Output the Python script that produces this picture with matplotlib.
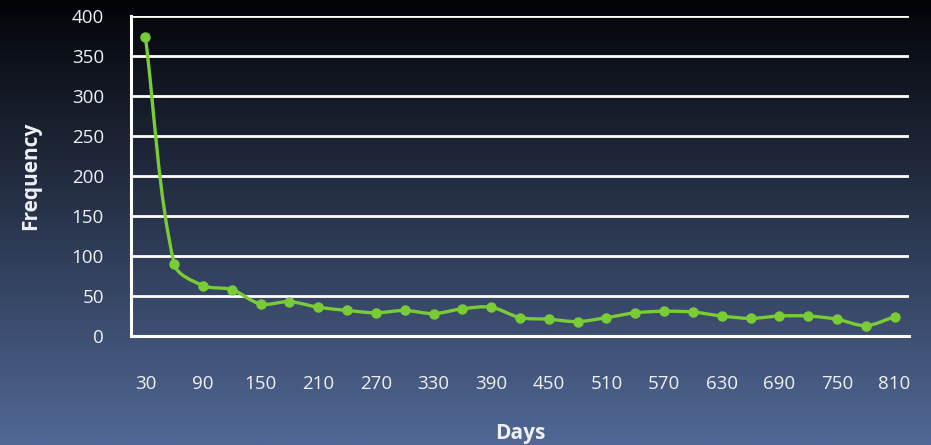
import matplotlib
matplotlib.use('Agg')
import matplotlib.pyplot as plt
import numpy as np
from matplotlib.path import Path
from matplotlib.patches import PathPatch

# Days since event, in 30-day bins
days = [30, 60, 90, 120, 150, 180, 210, 240, 270, 300, 330, 360, 390, 420,
        450, 480, 510, 540, 570, 600, 630, 660, 690, 720, 750, 780, 810]
frequency = [374, 90, 63, 58, 40, 43, 36, 32, 29, 32, 28, 34, 36, 23,
             21, 18, 23, 29, 31, 30, 25, 22, 25, 25, 21, 13, 24]
y_ticks = [0, 50, 100, 150, 200, 250, 300, 350, 400]

green = '#7acc35'
text_col = '#eef0f4'
plt.rcParams['font.family'] = ['Open Sans', 'DejaVu Sans']

fig = plt.figure(figsize=(9.31, 4.45), dpi=100)

# vertical gradient behind everything
bg = fig.add_axes([0, 0, 1, 1], zorder=0)
top_rgb = np.array([3, 4, 7]) / 255
bot_rgb = np.array([81, 104, 150]) / 255
t = np.linspace(0, 1, 256)[:, None, None]
grad = top_rgb * (1 - t) + bot_rgb * t
grad = np.repeat(grad, 2, axis=1)
bg.imshow(grad, aspect='auto', extent=[0, 1, 0, 1])
bg.axis('off')

ax = fig.add_axes([0.1407, 0.2449, 0.9764 - 0.1407, 0.964 - 0.2449], zorder=1)
ax.patch.set_alpha(0)

x = np.arange(len(days))
y = np.array(frequency, dtype=float)

ax.set_xlim(-0.5, len(days) - 0.5)
ax.set_ylim(0, 400)

# smoothed line: bezier segments with tangents worked out in pixel space,
# handle length tied to each segment's own length so nothing overshoots
pts = ax.transData.transform(np.column_stack([x, y]))
n = len(pts)
tang = []
for i in range(n):
    d = pts[min(i + 1, n - 1)] - pts[max(i - 1, 0)]
    tang.append(d / np.hypot(*d))
verts = [tuple(pts[0])]
codes = [Path.MOVETO]
for i in range(n - 1):
    seg = np.hypot(*(pts[i + 1] - pts[i]))
    c1 = pts[i] + tang[i] * seg / 3.2
    c2 = pts[i + 1] - tang[i + 1] * seg / 3.2
    verts += [tuple(c1), tuple(c2), tuple(pts[i + 1])]
    codes += [Path.CURVE4] * 3
verts = ax.transData.inverted().transform(verts)
ax.add_patch(PathPatch(Path(verts, codes), facecolor='none', edgecolor=green,
                       lw=2.4, zorder=3, capstyle='round', joinstyle='round'))
ax.plot(x, y, linestyle='none', marker='o', markersize=6.5, color=green, zorder=4)

ax.set_yticks(y_ticks)
ax.set_xticks(x[::2])
ax.set_xticklabels([str(d) for d in days[::2]])

for v in y_ticks[1:]:
    ax.axhline(v, color='white', lw=2, zorder=2)

for s in ['top', 'right']:
    ax.spines[s].set_visible(False)
for s in ['left', 'bottom']:
    ax.spines[s].set_color('white')
    ax.spines[s].set_linewidth(2.2)

ax.tick_params(axis='both', length=0, colors=text_col, labelsize=13.5)
ax.tick_params(axis='y', pad=19.5)
ax.tick_params(axis='x', pad=28)

ax.set_ylabel('Frequency', color=text_col, fontsize=15, fontweight='bold', labelpad=22)
ax.set_xlabel('Days', color=text_col, fontsize=15, fontweight='bold', labelpad=22)

plt.savefig('out.png', dpi=100)
